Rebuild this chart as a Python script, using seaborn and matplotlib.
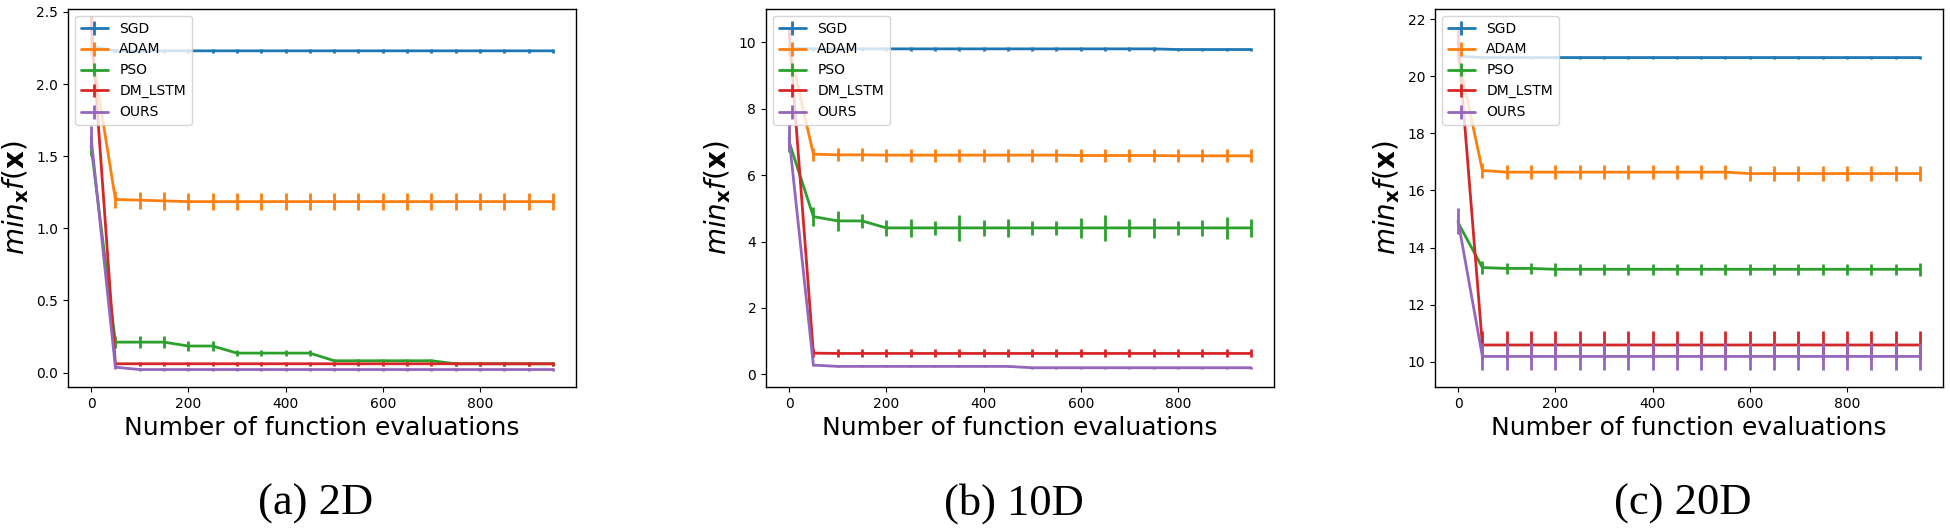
import numpy as np
import matplotlib
matplotlib.use("Agg")
import matplotlib.pyplot as plt
import seaborn as sns

# ---------------- data ----------------
evals = [0, 50, 100, 150, 200, 250, 300, 350, 400, 450,
         500, 550, 600, 650, 700, 750, 800, 850, 900, 950]
methods = ["SGD", "ADAM", "PSO", "DM_LSTM", "OURS"]
panel_titles = ["(a) 2D", "(b) 10D", "(c) 20D"]

# 2D
sgd_2d = [2.26, 2.23, 2.23, 2.23, 2.23, 2.23, 2.23, 2.23, 2.23, 2.23,
          2.23, 2.23, 2.23, 2.23, 2.23, 2.23, 2.23, 2.23, 2.23, 2.23]
sgd_2d_err = [0.012] * 20
adam_2d = [2.26, 1.20, 1.195, 1.19, 1.185, 1.185, 1.185, 1.185, 1.185, 1.185,
           1.185, 1.185, 1.185, 1.185, 1.185, 1.185, 1.185, 1.185, 1.185, 1.185]
adam_2d_err = [0.06, 0.06, 0.06, 0.06, 0.06, 0.06, 0.06, 0.06, 0.06, 0.06,
               0.06, 0.06, 0.06, 0.06, 0.06, 0.06, 0.06, 0.06, 0.06, 0.06]
pso_2d = [1.57, 0.211, 0.211, 0.211, 0.184, 0.184, 0.135, 0.135, 0.135, 0.135,
          0.082, 0.082, 0.082, 0.082, 0.082, 0.061, 0.061, 0.061, 0.061, 0.061]
pso_2d_err = [0.07, 0.04, 0.04, 0.04, 0.035, 0.035, 0.02, 0.02, 0.02, 0.02,
              0.012, 0.012, 0.012, 0.012, 0.012, 0.012, 0.012, 0.012, 0.012, 0.012]
dm_2d = [2.42, 0.061, 0.061, 0.061, 0.061, 0.061, 0.061, 0.061, 0.061, 0.061,
         0.061, 0.061, 0.061, 0.061, 0.061, 0.061, 0.061, 0.061, 0.061, 0.061]
dm_2d_err = [0.05, 0.012, 0.012, 0.012, 0.012, 0.012, 0.012, 0.012, 0.012, 0.012,
             0.012, 0.012, 0.012, 0.012, 0.012, 0.012, 0.012, 0.012, 0.012, 0.012]
ours_2d = [1.63, 0.037, 0.021, 0.021, 0.021, 0.021, 0.021, 0.021, 0.021, 0.021,
           0.021, 0.021, 0.021, 0.021, 0.021, 0.021, 0.021, 0.021, 0.021, 0.021]
ours_2d_err = [0.08, 0.012, 0.012, 0.012, 0.012, 0.012, 0.012, 0.012, 0.012, 0.012,
               0.012, 0.012, 0.012, 0.012, 0.012, 0.012, 0.012, 0.012, 0.012, 0.012]

# 10D
sgd_10d = [9.82, 9.80, 9.80, 9.80, 9.80, 9.80, 9.80, 9.80, 9.80, 9.80,
           9.80, 9.80, 9.80, 9.80, 9.80, 9.80, 9.78, 9.78, 9.78, 9.78]
sgd_10d_err = [0.05] * 20
adam_10d = [9.82, 6.63, 6.61, 6.61, 6.60, 6.60, 6.60, 6.60, 6.60, 6.60,
            6.60, 6.60, 6.59, 6.59, 6.59, 6.59, 6.58, 6.58, 6.58, 6.58]
adam_10d_err = [0.2, 0.2, 0.2, 0.2, 0.2, 0.2, 0.2, 0.2, 0.2, 0.2,
                0.2, 0.2, 0.2, 0.2, 0.2, 0.2, 0.2, 0.2, 0.2, 0.2]
pso_10d = [7.0, 4.75, 4.62, 4.62, 4.41, 4.41, 4.41, 4.41, 4.41, 4.41,
           4.41, 4.41, 4.41, 4.41, 4.41, 4.41, 4.41, 4.41, 4.41, 4.41]
pso_10d_err = [0.3, 0.28, 0.3, 0.22, 0.25, 0.28, 0.2, 0.38, 0.25, 0.28,
               0.2, 0.22, 0.3, 0.38, 0.28, 0.3, 0.22, 0.25, 0.32, 0.28]
dm_10d = [10.3, 0.64, 0.63, 0.63, 0.63, 0.63, 0.63, 0.63, 0.63, 0.63,
          0.63, 0.63, 0.63, 0.63, 0.63, 0.63, 0.63, 0.63, 0.63, 0.63]
dm_10d_err = [0.12] * 20
ours_10d = [7.12, 0.28, 0.24, 0.24, 0.24, 0.24, 0.24, 0.24, 0.24, 0.24,
            0.20, 0.20, 0.20, 0.20, 0.20, 0.20, 0.20, 0.20, 0.20, 0.20]
ours_10d_err = [0.4, 0.03, 0.03, 0.03, 0.03, 0.03, 0.03, 0.03, 0.03, 0.03,
                0.03, 0.03, 0.03, 0.03, 0.03, 0.03, 0.03, 0.03, 0.03, 0.03]

# 20D
sgd_20d = [20.7, 20.65, 20.65, 20.65, 20.65, 20.65, 20.65, 20.65, 20.65, 20.65,
           20.65, 20.65, 20.65, 20.65, 20.65, 20.65, 20.65, 20.65, 20.65, 20.65]
sgd_20d_err = [0.05] * 20
adam_20d = [20.7, 16.70, 16.64, 16.64, 16.64, 16.64, 16.64, 16.64, 16.64, 16.64,
            16.64, 16.64, 16.59, 16.59, 16.59, 16.59, 16.59, 16.59, 16.59, 16.59]
adam_20d_err = [0.25] * 20
pso_20d = [14.87, 13.30, 13.27, 13.27, 13.24, 13.24, 13.24, 13.24, 13.24, 13.24,
           13.24, 13.24, 13.24, 13.24, 13.24, 13.24, 13.24, 13.24, 13.24, 13.24]
pso_20d_err = [0.1, 0.22, 0.2, 0.2, 0.22, 0.2, 0.2, 0.2, 0.2, 0.2,
               0.2, 0.2, 0.2, 0.2, 0.2, 0.2, 0.2, 0.2, 0.2, 0.22]
dm_20d = [21.2, 10.59, 10.59, 10.59, 10.59, 10.59, 10.59, 10.59, 10.59, 10.59,
          10.59, 10.59, 10.59, 10.59, 10.59, 10.59, 10.59, 10.59, 10.59, 10.59]
dm_20d_err = [0.5] * 20
ours_20d = [14.93, 10.19, 10.19, 10.19, 10.19, 10.19, 10.19, 10.19, 10.19, 10.19,
            10.19, 10.19, 10.19, 10.19, 10.19, 10.19, 10.19, 10.19, 10.19, 10.19]
ours_20d_err = [0.45, 0.47, 0.47, 0.47, 0.47, 0.47, 0.47, 0.47, 0.47, 0.47,
                0.47, 0.47, 0.47, 0.47, 0.47, 0.47, 0.47, 0.47, 0.47, 0.47]

panels = [
    [(sgd_2d, sgd_2d_err), (adam_2d, adam_2d_err), (pso_2d, pso_2d_err),
     (dm_2d, dm_2d_err), (ours_2d, ours_2d_err)],
    [(sgd_10d, sgd_10d_err), (adam_10d, adam_10d_err), (pso_10d, pso_10d_err),
     (dm_10d, dm_10d_err), (ours_10d, ours_10d_err)],
    [(sgd_20d, sgd_20d_err), (adam_20d, adam_20d_err), (pso_20d, pso_20d_err),
     (dm_20d, dm_20d_err), (ours_20d, ours_20d_err)],
]
ylims = [(-0.1, 2.52), (-0.38, 11.0), (9.12, 22.35)]
yticks = [[0.0, 0.5, 1.0, 1.5, 2.0, 2.5], [0, 2, 4, 6, 8, 10], [10, 12, 14, 16, 18, 20, 22]]

# ---------------- style ----------------
sns.set_theme(style="ticks", rc={
    "axes.edgecolor": "black",
    "axes.linewidth": 1.0,
    "xtick.color": "black",
    "ytick.color": "black",
    "text.color": "black",
    "axes.labelcolor": "black",
    "xtick.labelsize": 10,
    "ytick.labelsize": 10,
    "xtick.major.size": 3.5,
    "ytick.major.size": 3.5,
    "xtick.major.width": 0.8,
    "ytick.major.width": 0.8,
})
plt.rcParams["font.family"] = ["DejaVu Sans"]
palette = sns.color_palette("tab10", 5)

fig = plt.figure(figsize=(19.5, 5.28), dpi=100)
W, H = 1950.0, 528.0
lefts = [68, 766, 1435]
ax_w = 508
ax_top, ax_bot = 9, 387
LW = 2.0

for p, (left, series, yl, yt, title) in enumerate(zip(lefts, panels, ylims, yticks, panel_titles)):
    ax = fig.add_axes([left / W, (H - ax_bot) / H, ax_w / W, (ax_bot - ax_top) / H])
    for i, (name, (vals, errs)) in enumerate(zip(methods, series)):
        c = palette[i]
        sns.lineplot(x=evals, y=vals, ax=ax, color=c, linewidth=LW,
                     legend=False, zorder=2 + i)
        ax.errorbar(evals, vals, yerr=errs, fmt="none", ecolor=c,
                    elinewidth=LW, capsize=0, zorder=2 + i)
        # legend proxy (errorbar style handle)
        ax.errorbar([np.nan], [np.nan], yerr=[np.nan], color=c,
                    linewidth=LW, elinewidth=LW, capsize=0, label=name)
    ax.set_xlim(-47.5, 997.5)
    ax.set_ylim(*yl)
    ax.set_yticks(yt)
    ax.set_xticks([0, 200, 400, 600, 800])
    if p == 0:
        ax.set_yticklabels(["%.1f" % v for v in yt])
    ax.set_xlabel("Number of function evaluations", fontsize=18)
    ax.set_ylabel(r"$min_{\mathbf{x}}f(\mathbf{x})$", fontsize=20)
    ax.legend(loc="upper left", fontsize=10, frameon=True)
    fig.text((left + ax_w / 2 - 6) / W, 13 / H, title, ha="center", va="baseline",
             fontsize=32, family=["Liberation Serif", "DejaVu Serif"])

fig.savefig("out.png", dpi=100)
